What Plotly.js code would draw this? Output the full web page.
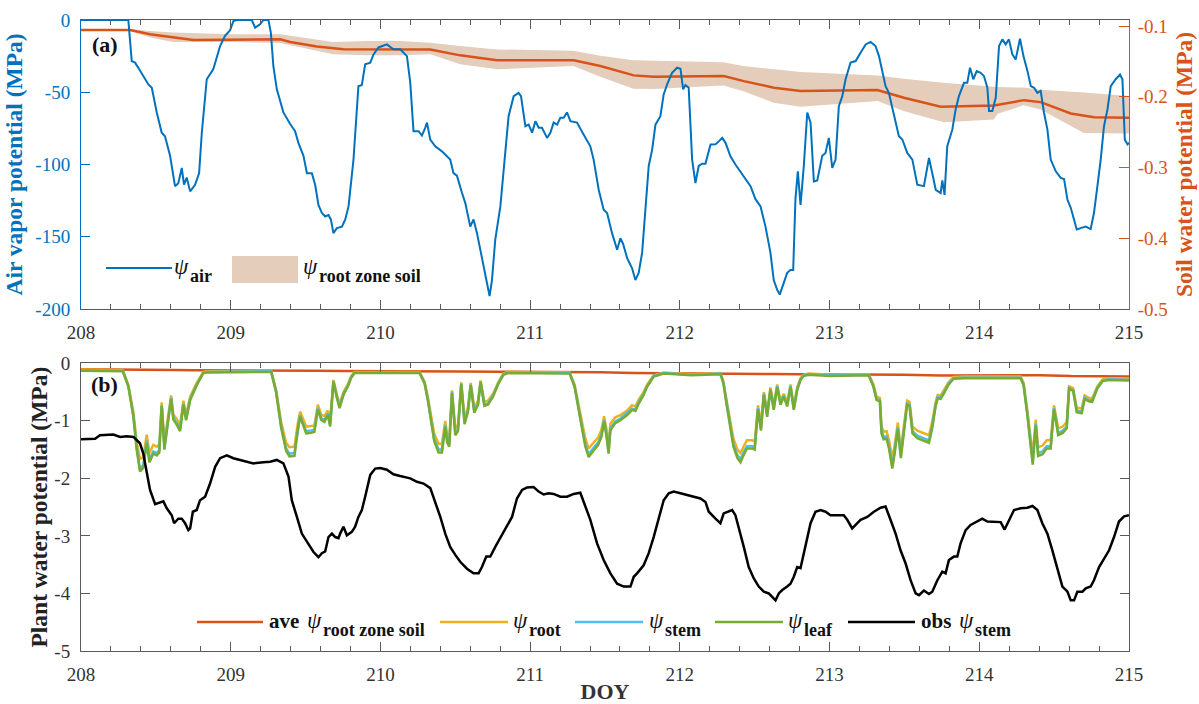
<!DOCTYPE html>
<html><head><meta charset="utf-8">
<script src="https://cdn.plot.ly/plotly-3.0.1.min.js"></script>
<style>html,body{margin:0;padding:0;background:#fff}#chart{width:1199px;height:704px}</style>
</head><body><div id="chart"></div>
<script>
// ---------- Panel (a): air vapour potential (MPa) ----------
const airDays = [208.000,208.316,208.339,208.361,208.394,208.450,208.473,208.506,208.539,208.561,208.595,208.617,208.628,208.650,208.673,208.688,208.706,208.729,208.762,208.789,208.807,208.840,208.884,208.929,208.962,208.996,209.018,209.041,209.141,209.163,209.196,209.219,209.252,209.268,209.285,209.308,209.352,209.397,209.430,209.452,209.486,209.509,209.542,209.564,209.586,209.609,209.631,209.653,209.669,209.686,209.709,209.743,209.765,209.787,209.820,209.853,209.876,209.898,209.932,209.954,209.987,210.043,210.087,210.132,210.177,210.199,210.221,210.255,210.277,210.299,210.311,210.333,210.366,210.411,210.444,210.466,210.488,210.511,210.545,210.567,210.600,210.622,210.645,210.678,210.700,210.729,210.745,210.767,210.801,210.834,210.856,210.890,210.923,210.939,210.968,210.990,211.013,211.035,211.057,211.079,211.113,211.135,211.157,211.180,211.202,211.224,211.246,211.269,211.313,211.357,211.402,211.424,211.458,211.491,211.514,211.547,211.581,211.603,211.621,211.648,211.681,211.703,211.725,211.748,211.770,211.792,211.815,211.837,211.870,211.892,211.915,211.948,211.982,212.004,212.022,212.037,212.059,212.082,212.104,212.126,212.149,212.171,212.205,212.238,212.260,212.283,212.305,212.338,212.371,212.427,212.472,212.505,212.539,212.572,212.605,212.627,212.650,212.667,212.694,212.717,212.739,212.757,212.772,212.788,212.806,212.828,212.851,212.873,212.895,212.918,212.951,212.973,212.995,213.018,213.040,213.062,213.085,213.107,213.140,213.174,213.207,213.241,213.274,213.307,213.330,213.352,213.374,213.396,213.430,213.463,213.486,213.519,213.553,213.586,213.630,213.664,213.686,213.709,213.742,213.753,213.768,213.786,213.820,213.842,213.864,213.898,213.920,213.938,213.960,213.983,214.009,214.031,214.054,214.065,214.087,214.110,214.132,214.154,214.176,214.198,214.221,214.243,214.272,214.295,214.322,214.344,214.366,214.388,214.410,214.432,214.455,214.477,214.511,214.544,214.566,214.589,214.611,214.633,214.651,214.677,214.711,214.744,214.766,214.789,214.811,214.833,214.856,214.878,214.911,214.940,214.956,214.972,214.990,215.000];
const airPsi = [0,0,-28.4,-29.5,-35,-44.6,-46.9,-64,-78,-80.5,-94,-110.5,-115,-113,-102.4,-114,-109,-118.6,-114,-106,-78,-41,-34,-18,-11,-7,-0.7,0,0,-5.3,-3,0,0,-8.7,-32,-48,-64,-72,-77,-85,-94,-106,-106,-114,-128,-133.6,-136,-135,-138,-147.5,-144,-143,-138,-129,-96.6,-45.8,-45,-30.7,-29.5,-23.8,-19,-16.9,-20.3,-20.3,-25,-43,-77,-77,-80,-74.6,-71,-82.8,-87.4,-90.9,-94,-96.6,-106,-107.7,-119.7,-126.7,-143,-138,-147.5,-165,-177.6,-191,-180,-152,-129,-89.7,-66.6,-52.7,-50.4,-52.7,-73.5,-72.4,-78,-70,-74.6,-74.6,-81.6,-78,-71,-72.4,-67.7,-67.7,-64,-70,-71,-79.3,-87.4,-96.6,-117.5,-131.3,-133.6,-147.5,-159,-151,-155,-164.8,-171.8,-180,-175,-161,-131,-101,-89.7,-72.4,-66.6,-51.5,-44.6,-36.5,-33,-33.7,-48,-45,-46.9,-96.6,-112.8,-101,-99.4,-99.4,-86.2,-86,-84,-81.6,-85,-94.3,-100,-108,-115,-124,-129,-143,-161,-180,-186.8,-190,-182,-175,-173,-173,-124,-104.7,-128,-101,-64,-71,-111.7,-111,-94,-92,-81.6,-102.4,-96.6,-59.6,-52.7,-41,-29.5,-28.4,-22.6,-16.9,-15.2,-18,-25,-35.4,-45.8,-50.4,-65.4,-80.5,-82.7,-92,-96.6,-114,-115,-95.5,-106,-117.5,-119.7,-111,-121,-87.4,-75.8,-61.9,-52.7,-43.5,-43.5,-33,-41,-35.4,-36.5,-38.8,-46.9,-63,-63,-53.8,-18,-13.4,-16.9,-13.4,-23.8,-27.3,-12.9,-25,-35.4,-45.8,-46.9,-50.4,-49,-64,-75.8,-96.6,-104.7,-109.3,-110,-124.4,-130,-138,-145,-144,-143,-144.7,-133.6,-115,-96.6,-73.5,-62,-45.8,-41,-37.7,-41,-82.8,-86,-85];

// ---------- Root-zone soil water potential (MPa) ----------
const soilDays = [208.000,208.328,208.461,208.617,208.751,209.330,209.397,209.575,209.753,210.333,210.533,210.779,211.291,211.469,211.692,211.826,212.293,212.427,212.628,212.806,213.319,213.497,213.742,214.098,214.299,214.410,214.611,214.767,215.000];
const soilMean = [-0.1055,-0.1055,-0.1116,-0.1163,-0.1197,-0.1187,-0.1225,-0.129,-0.1329,-0.133,-0.1414,-0.1484,-0.1484,-0.1565,-0.1697,-0.1716,-0.1707,-0.1778,-0.1871,-0.1919,-0.1905,-0.2013,-0.214,-0.2122,-0.2047,-0.2075,-0.2235,-0.2288,-0.2296];
const bandDays = [208.000,208.328,208.461,208.615,209.016,209.330,209.684,209.912,210.132,210.333,210.533,210.781,211.289,211.469,211.690,211.824,212.291,212.425,212.626,212.806,213.321,213.495,213.762,214.096,214.123,214.297,214.410,214.698,215.000];
const bandUpper = [-0.104,-0.104,-0.107,-0.109,-0.1116,-0.1116,-0.1225,-0.121,-0.121,-0.1234,-0.128,-0.133,-0.135,-0.142,-0.1484,-0.149,-0.151,-0.1565,-0.161,-0.165,-0.1697,-0.1744,-0.18,-0.1857,-0.186,-0.187,-0.19,-0.194,-0.199];
const bandLower = [-0.107,-0.107,-0.116,-0.1225,-0.1225,-0.124,-0.14,-0.1414,-0.1414,-0.14,-0.154,-0.161,-0.1565,-0.1716,-0.1886,-0.189,-0.184,-0.192,-0.2084,-0.214,-0.206,-0.22,-0.2358,-0.232,-0.224,-0.212,-0.218,-0.251,-0.252];

// ---------- Panel (b): modelled plant water potential (MPa) ----------
const modelDays = [
208.000,208.279,208.316,208.350,208.372,208.394,208.416,208.439,208.457,208.483,208.506,208.523,208.539,208.557,208.573,208.602,208.617,208.640,208.662,208.684,208.702,208.729,208.773,208.817,208.840,
209.270,209.303,209.337,209.370,209.392,209.426,209.448,209.464,209.482,209.504,209.537,209.559,209.582,209.604,209.626,209.649,209.664,209.686,209.709,209.727,209.753,209.783,209.805,209.827,
210.261,210.295,210.317,210.339,210.359,210.388,210.411,210.433,210.446,210.460,210.478,210.500,210.518,210.540,210.562,210.585,210.603,210.627,210.652,210.669,210.694,210.718,210.752,210.787,210.821,210.854,
211.264,211.297,211.322,211.347,211.369,211.391,211.420,211.454,211.476,211.494,211.509,211.524,211.536,211.569,211.603,211.648,211.681,211.703,211.725,211.758,211.781,211.825,211.892,212.077,
212.271,212.291,212.311,212.335,212.358,212.385,212.405,212.425,212.448,212.483,212.500,212.522,212.542,212.561,212.583,212.605,212.627,212.650,212.672,212.694,212.717,212.739,212.761,212.784,212.806,212.826,212.859,213.006,
213.261,213.292,213.314,213.336,213.347,213.361,213.381,213.397,213.419,213.436,213.456,213.476,213.498,213.518,213.534,213.554,213.586,213.630,213.664,213.686,213.708,213.722,213.742,213.768,213.792,213.828,213.895,
214.276,214.296,214.321,214.338,214.357,214.377,214.393,214.423,214.450,214.477,214.499,214.527,214.557,214.584,214.600,214.627,214.651,214.684,214.704,214.731,214.754,214.788,214.824,214.864,215.000];
const rootPsi = [
-0.11,-0.12,-0.37,-0.85,-1.37,-1.66,-1.64,-1.24,-1.56,-1.42,-1.45,-1.41,-0.68,-1.36,-1.07,-0.56,-0.89,-0.97,-1.07,-0.65,-0.90,-0.58,-0.34,-0.15,-0.14,
-0.13,-0.46,-1.02,-1.38,-1.46,-1.45,-1.04,-0.84,-0.97,-1.10,-1.09,-1.08,-0.72,-0.89,-0.92,-0.82,-1.00,-0.29,-0.54,-0.71,-0.50,-0.36,-0.22,-0.15,
-0.15,-0.32,-0.59,-0.95,-1.22,-1.40,-1.40,-1.00,-1.25,-1.31,-0.47,-1.13,-1.07,-0.33,-0.96,-0.76,-0.34,-0.78,-0.65,-0.30,-0.67,-0.65,-0.53,-0.33,-0.18,-0.15,
-0.16,-0.37,-0.73,-1.03,-1.31,-1.48,-1.39,-1.29,-1.16,-0.92,-1.13,-1.42,-1.05,-0.94,-0.90,-0.82,-0.73,-0.75,-0.63,-0.50,-0.37,-0.21,-0.16,-0.19,
-0.17,-0.32,-0.63,-0.95,-1.31,-1.50,-1.56,-1.45,-1.34,-1.34,-1.36,-0.73,-1.06,-0.50,-0.84,-0.42,-0.73,-0.37,-0.65,-0.53,-0.68,-0.37,-0.73,-0.42,-0.26,-0.20,-0.18,-0.20,
-0.19,-0.36,-0.58,-0.60,-1.10,-1.19,-1.18,-1.34,-1.66,-1.40,-1.03,-1.50,-1.00,-0.65,-0.67,-1.10,-1.17,-1.21,-1.25,-1.01,-0.68,-0.55,-0.56,-0.45,-0.34,-0.24,-0.23,
-0.23,-0.34,-0.82,-1.16,-1.60,-0.98,-1.46,-1.43,-1.34,-1.34,-0.73,-1.13,-1.10,-1.02,-0.40,-0.43,-0.77,-0.79,-0.56,-0.60,-0.61,-0.40,-0.28,-0.26,-0.27];
const stemPsi = [
-0.12,-0.13,-0.39,-0.91,-1.46,-1.84,-1.77,-1.34,-1.67,-1.53,-1.56,-1.51,-0.73,-1.46,-1.15,-0.60,-0.95,-1.04,-1.15,-0.70,-0.96,-0.62,-0.37,-0.16,-0.15,
-0.14,-0.49,-1.09,-1.48,-1.57,-1.56,-1.12,-0.90,-1.04,-1.18,-1.17,-1.16,-0.78,-0.95,-0.99,-0.87,-1.07,-0.31,-0.58,-0.76,-0.53,-0.39,-0.24,-0.16,
-0.16,-0.34,-0.63,-1.02,-1.31,-1.50,-1.50,-1.07,-1.34,-1.41,-0.50,-1.21,-1.15,-0.35,-1.03,-0.81,-0.37,-0.83,-0.70,-0.32,-0.72,-0.70,-0.56,-0.35,-0.19,-0.16,
-0.17,-0.40,-0.78,-1.11,-1.41,-1.58,-1.48,-1.38,-1.24,-0.98,-1.21,-1.52,-1.13,-1.01,-0.96,-0.87,-0.79,-0.81,-0.68,-0.53,-0.40,-0.22,-0.17,-0.20,
-0.18,-0.34,-0.68,-1.02,-1.41,-1.60,-1.67,-1.55,-1.44,-1.44,-1.46,-0.78,-1.14,-0.53,-0.90,-0.45,-0.79,-0.40,-0.70,-0.56,-0.73,-0.40,-0.79,-0.45,-0.28,-0.21,-0.19,-0.21,
-0.20,-0.39,-0.62,-0.64,-1.18,-1.28,-1.27,-1.44,-1.78,-1.49,-1.11,-1.60,-1.07,-0.70,-0.72,-1.18,-1.26,-1.30,-1.34,-1.09,-0.73,-0.59,-0.60,-0.49,-0.37,-0.26,-0.25,
-0.25,-0.37,-0.87,-1.24,-1.71,-1.05,-1.56,-1.53,-1.44,-1.44,-0.78,-1.21,-1.17,-1.10,-0.43,-0.47,-0.82,-0.84,-0.60,-0.64,-0.65,-0.43,-0.30,-0.28,-0.29];
const leafPsi = [
-0.13,-0.14,-0.40,-0.93,-1.50,-1.88,-1.82,-1.38,-1.72,-1.57,-1.60,-1.55,-0.75,-1.50,-1.18,-0.62,-0.98,-1.07,-1.18,-0.72,-0.99,-0.64,-0.38,-0.17,-0.16,
-0.15,-0.50,-1.12,-1.52,-1.62,-1.61,-1.15,-0.93,-1.07,-1.22,-1.21,-1.19,-0.80,-0.98,-1.02,-0.90,-1.10,-0.32,-0.60,-0.78,-0.55,-0.40,-0.25,-0.17,
-0.17,-0.35,-0.65,-1.05,-1.35,-1.55,-1.55,-1.10,-1.38,-1.45,-0.52,-1.25,-1.18,-0.36,-1.06,-0.84,-0.38,-0.86,-0.72,-0.33,-0.74,-0.72,-0.58,-0.36,-0.20,-0.17,
-0.18,-0.41,-0.80,-1.14,-1.45,-1.63,-1.53,-1.42,-1.28,-1.01,-1.25,-1.57,-1.16,-1.04,-0.99,-0.90,-0.81,-0.83,-0.70,-0.55,-0.41,-0.23,-0.18,-0.21,
-0.19,-0.35,-0.70,-1.05,-1.45,-1.65,-1.72,-1.60,-1.48,-1.48,-1.50,-0.80,-1.17,-0.55,-0.93,-0.46,-0.81,-0.41,-0.72,-0.58,-0.75,-0.41,-0.81,-0.46,-0.29,-0.22,-0.20,-0.22,
-0.21,-0.40,-0.64,-0.66,-1.22,-1.32,-1.31,-1.48,-1.83,-1.54,-1.14,-1.65,-1.10,-0.72,-0.74,-1.22,-1.30,-1.34,-1.38,-1.12,-0.75,-0.61,-0.62,-0.50,-0.38,-0.27,-0.26,
-0.26,-0.38,-0.90,-1.28,-1.76,-1.08,-1.61,-1.58,-1.48,-1.48,-0.80,-1.25,-1.21,-1.13,-0.44,-0.48,-0.85,-0.87,-0.62,-0.66,-0.67,-0.44,-0.31,-0.29,-0.30];

// ---------- Panel (b): observed stem water potential (MPa) ----------
const obsDays = [208.000,208.094,208.127,208.216,208.261,208.305,208.350,208.394,208.416,208.439,208.461,208.495,208.528,208.550,208.573,208.606,208.622,208.650,208.673,208.695,208.717,208.729,208.747,208.773,208.795,208.829,208.862,208.896,208.929,208.974,209.018,209.063,209.108,209.152,209.219,209.263,209.308,209.352,209.386,209.408,209.442,209.475,209.509,209.553,209.586,209.609,209.631,209.653,209.676,209.698,209.720,209.731,209.753,209.776,209.809,209.831,209.853,209.876,209.898,209.932,209.965,209.999,210.043,210.087,210.132,210.199,210.244,210.288,210.333,210.366,210.400,210.433,210.466,210.500,210.533,210.578,210.622,210.656,210.678,210.707,210.734,210.767,210.801,210.845,210.879,210.912,210.946,210.979,211.023,211.057,211.090,211.123,211.157,211.202,211.246,211.291,211.335,211.369,211.402,211.447,211.491,211.536,211.581,211.625,211.670,211.692,211.714,211.758,211.792,211.825,211.859,211.892,211.926,211.959,212.004,212.049,212.093,212.137,212.171,212.193,212.238,212.271,212.293,212.327,212.349,212.371,212.393,212.427,212.460,212.494,212.527,212.561,212.594,212.617,212.639,212.661,212.684,212.717,212.739,212.761,212.784,212.806,212.828,212.851,212.873,212.906,212.940,212.973,213.006,213.051,213.095,213.118,213.151,213.174,213.207,213.252,213.296,213.341,213.374,213.407,213.441,213.474,213.508,213.541,213.575,213.597,213.630,213.664,213.686,213.720,213.753,213.775,213.797,213.831,213.853,213.875,213.909,213.942,213.987,214.020,214.054,214.098,214.143,214.169,214.198,214.232,214.276,214.321,214.355,214.388,214.421,214.455,214.488,214.522,214.555,214.589,214.611,214.633,214.655,214.689,214.711,214.744,214.766,214.800,214.833,214.867,214.900,214.933,214.967,215.000];
const obsStem = [-1.32,-1.31,-1.25,-1.24,-1.28,-1.27,-1.28,-1.39,-1.57,-1.91,-2.20,-2.45,-2.42,-2.40,-2.52,-2.64,-2.78,-2.70,-2.70,-2.78,-2.90,-2.87,-2.58,-2.55,-2.38,-2.32,-2.09,-1.80,-1.65,-1.60,-1.65,-1.68,-1.71,-1.74,-1.72,-1.71,-1.68,-1.74,-1.97,-2.38,-2.67,-2.96,-3.10,-3.28,-3.37,-3.30,-3.27,-3.02,-2.96,-3.02,-3.04,-2.96,-2.84,-2.99,-2.93,-2.84,-2.67,-2.55,-2.32,-1.94,-1.83,-1.82,-1.85,-1.93,-1.96,-2.00,-2.06,-2.09,-2.17,-2.41,-2.67,-2.96,-3.19,-3.33,-3.45,-3.57,-3.65,-3.65,-3.54,-3.36,-3.36,-3.19,-3.04,-2.84,-2.67,-2.35,-2.20,-2.16,-2.15,-2.23,-2.28,-2.26,-2.27,-2.32,-2.32,-2.27,-2.25,-2.49,-2.72,-3.13,-3.42,-3.65,-3.83,-3.88,-3.88,-3.71,-3.65,-3.51,-3.30,-3.02,-2.67,-2.38,-2.26,-2.23,-2.26,-2.29,-2.32,-2.35,-2.41,-2.58,-2.70,-2.78,-2.61,-2.58,-2.55,-2.64,-2.84,-3.19,-3.54,-3.74,-3.88,-3.97,-4.00,-4.06,-4.12,-4.00,-3.94,-3.88,-3.83,-3.71,-3.54,-3.56,-3.30,-3.02,-2.78,-2.58,-2.55,-2.58,-2.64,-2.64,-2.64,-2.72,-2.87,-2.81,-2.72,-2.67,-2.58,-2.51,-2.49,-2.72,-2.96,-3.25,-3.48,-3.77,-4.00,-4.03,-3.95,-4.01,-3.97,-3.77,-3.62,-3.65,-3.42,-3.36,-3.36,-3.13,-2.90,-2.81,-2.75,-2.70,-2.75,-2.75,-2.76,-2.89,-2.72,-2.55,-2.52,-2.51,-2.48,-2.55,-2.78,-2.96,-3.25,-3.59,-3.88,-3.97,-4.12,-4.12,-3.97,-3.97,-3.91,-3.88,-3.77,-3.54,-3.39,-3.25,-3.02,-2.75,-2.66,-2.64];

// ---------- tick labels ----------
const dayTicks = [208,209,210,211,212,213,214,215];
const dayLabels = ['208','209','210','211','212','213','214','215'];
const airTicks = [-200,-150,-100,-50,0];
const airLabels = ['-200','-150','-100','-50','0'];
const soilTicks = [-0.5,-0.4,-0.3,-0.2,-0.1];
const soilLabels = ['-0.5','-0.4','-0.3','-0.2','-0.1'];
const plantTicks = [-5,-4,-3,-2,-1,0];
const plantLabels = ['-5','-4','-3','-2','-1','0'];

// ---------- styling ----------
const FONT = 'Liberation Serif, "Times New Roman", serif';
const BLUE = '#0072BD', ORANGE = '#D95319', TAN = '#E5CDBB', YEL = '#EDB120', CYAN = '#4DBEEE', GREEN = '#77AC30', AX = '#5a5a5a', TXT = '#333333';

const traces = [
  {x: bandDays, y: bandUpper, xaxis: 'x', yaxis: 'y', mode: 'lines', line: {width: 0, color: TAN}, hoverinfo: 'skip', showlegend: false},
  {x: bandDays, y: bandLower, xaxis: 'x', yaxis: 'y', mode: 'lines', line: {width: 0, color: TAN}, fill: 'tonexty', fillcolor: TAN, showlegend: false},
  {x: soilDays, y: soilMean, xaxis: 'x', yaxis: 'y', mode: 'lines', line: {color: ORANGE, width: 2.5}, showlegend: false},
  {x: airDays, y: airPsi, xaxis: 'x', yaxis: 'y2', mode: 'lines', line: {color: BLUE, width: 2}, showlegend: false},
  {x: soilDays, y: soilMean, xaxis: 'x2', yaxis: 'y3', mode: 'lines', line: {color: ORANGE, width: 2.5}, showlegend: false},
  {x: modelDays, y: rootPsi, xaxis: 'x2', yaxis: 'y3', mode: 'lines', line: {color: YEL, width: 2.5}, showlegend: false},
  {x: modelDays, y: stemPsi, xaxis: 'x2', yaxis: 'y3', mode: 'lines', line: {color: CYAN, width: 2.5}, showlegend: false},
  {x: modelDays, y: leafPsi, xaxis: 'x2', yaxis: 'y3', mode: 'lines', line: {color: GREEN, width: 2.5}, showlegend: false},
  {x: obsDays, y: obsStem, xaxis: 'x2', yaxis: 'y3', mode: 'lines', line: {color: '#000000', width: 2.5}, showlegend: false}
];

function xAxis(anchor, title) {
  const a = {
    domain: [0, 1], anchor: anchor, range: [208, 215], tickmode: 'array', tickvals: dayTicks, ticktext: dayLabels,
    ticks: 'inside', ticklen: 9, tickwidth: 1, tickcolor: AX, showline: true, linecolor: AX, linewidth: 1, mirror: 'ticks',
    showgrid: false, zeroline: false, ticklabelstandoff: 6,
    minor: {tickmode: 'linear', tick0: 208, dtick: 0.2, ticks: 'inside', ticklen: 5, tickcolor: AX, showgrid: false},
    tickfont: {family: FONT, size: 19, color: TXT}
  };
  if (title) a.title = {text: title, font: {family: FONT, size: 22, color: TXT, weight: 'bold'}, standoff: 3};
  return a;
}

const W = 1048, H = 631, L0 = 81, B0 = 651;
const px = v => (v - L0) / W;
const py = v => (B0 - v) / H;

const psiFont = {family: FONT, size: 23, color: '#111', style: 'italic'};
const subFont = {family: FONT, size: 18, color: '#111', weight: 'bold'};
const wordFont = {family: FONT, size: 21, color: '#111', weight: 'bold'};

const shapes = [
  {type: 'line', xref: 'paper', yref: 'paper', x0: px(106), x1: px(172), y0: py(268), y1: py(268), line: {color: BLUE, width: 2}},
  {type: 'rect', xref: 'paper', yref: 'paper', x0: px(232), x1: px(298), y0: py(283), y1: py(256), fillcolor: TAN, line: {width: 0}},
  {type: 'line', xref: 'paper', yref: 'paper', x0: px(197), x1: px(263), y0: py(622), y1: py(622), line: {color: ORANGE, width: 2.5}},
  {type: 'line', xref: 'paper', yref: 'paper', x0: px(440), x1: px(508), y0: py(622), y1: py(622), line: {color: YEL, width: 2.5}},
  {type: 'line', xref: 'paper', yref: 'paper', x0: px(575), x1: px(643), y0: py(622), y1: py(622), line: {color: CYAN, width: 2.5}},
  {type: 'line', xref: 'paper', yref: 'paper', x0: px(715), x1: px(783), y0: py(622), y1: py(622), line: {color: GREEN, width: 2.5}},
  {type: 'line', xref: 'paper', yref: 'paper', x0: px(848), x1: px(915), y0: py(622), y1: py(622), line: {color: '#000', width: 2.5}}
];

const ann = (x, y, text, font, extra) => Object.assign({xref: 'paper', yref: 'paper', x: px(x), y: py(y), text: text, showarrow: false, xanchor: 'left', yanchor: 'middle', borderpad: 0, font: font}, extra || {});

const annotations = [
  ann(104.5, 44, '(a)', {family: FONT, size: 22, color: '#111', weight: 'bold'}, {xanchor: 'center'}),
  ann(104.5, 384, '(b)', {family: FONT, size: 22, color: '#111', weight: 'bold'}, {xanchor: 'center'}),
  // top legend
  ann(173, 266, 'ψ', psiFont),
  ann(189, 276, 'air', subFont),
  ann(302, 266, 'ψ', psiFont),
  ann(318, 276, 'root zone soil', subFont),
  // bottom legend
  ann(268, 621, 'ave', wordFont),
  ann(306, 620, 'ψ', psiFont),
  ann(322, 630, 'root zone soil', subFont),
  ann(512, 620, 'ψ', psiFont),
  ann(528, 630, 'root', subFont),
  ann(648, 620, 'ψ', psiFont),
  ann(664, 630, 'stem', subFont),
  ann(787, 620, 'ψ', psiFont),
  ann(803, 630, 'leaf', subFont),
  ann(920, 621, 'obs', wordFont),
  ann(958, 620, 'ψ', psiFont),
  ann(974, 630, 'stem', subFont)
];

const layout = {
  width: 1199, height: 704, autosize: false,
  margin: {l: 81, r: 70, t: 20, b: 53, pad: 0},
  paper_bgcolor: '#ffffff', plot_bgcolor: 'rgba(0,0,0,0)',
  font: {family: FONT, size: 19, color: TXT},
  showlegend: false,
  xaxis: xAxis('y', null),
  yaxis: {
    domain: [0.542, 1], anchor: 'x', side: 'right', range: [-0.5, -0.0914],
    tickmode: 'array', tickvals: soilTicks, ticktext: soilLabels,
    ticks: 'inside', ticklen: 10, tickcolor: ORANGE, showline: true, linecolor: ORANGE, linewidth: 1,
    showgrid: false, zeroline: false, ticklabelstandoff: 4,
    tickfont: {family: FONT, size: 19, color: ORANGE},
    title: {text: 'Soil water potential (MPa)', font: {family: FONT, size: 23.5, color: ORANGE, weight: 'bold'}, standoff: 8}
  },
  yaxis2: {
    overlaying: 'y', anchor: 'x', side: 'left', range: [-200, 0],
    tickmode: 'array', tickvals: airTicks, ticktext: airLabels,
    ticks: 'inside', ticklen: 9, tickcolor: BLUE, showline: true, linecolor: BLUE, linewidth: 1,
    showgrid: false, zeroline: false, ticklabelstandoff: 6,
    tickfont: {family: FONT, size: 19, color: BLUE},
    title: {text: 'Air vapor potential (MPa)', font: {family: FONT, size: 23.5, color: BLUE, weight: 'bold'}, standoff: 6}
  },
  xaxis2: xAxis('y3', 'DOY'),
  yaxis3: {
    domain: [0, 0.456], anchor: 'x2', range: [-5, 0],
    tickmode: 'array', tickvals: plantTicks, ticktext: plantLabels,
    ticks: 'inside', ticklen: 9, tickcolor: AX, showline: true, linecolor: AX, linewidth: 1, mirror: 'ticks',
    showgrid: false, zeroline: false, ticklabelstandoff: 6,
    tickfont: {family: FONT, size: 19, color: TXT},
    title: {text: 'Plant water potential (MPa)', font: {family: FONT, size: 23.5, color: '#222', weight: 'bold'}, standoff: 0}
  },
  shapes: shapes,
  annotations: annotations
};

Plotly.newPlot('chart', traces, layout, {displayModeBar: false, staticPlot: true});
</script>
</body></html>
